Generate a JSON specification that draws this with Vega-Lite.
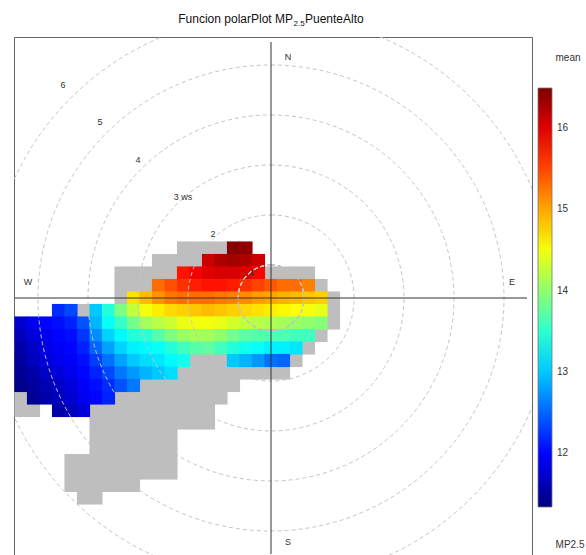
{
  "$schema": "https://vega.github.io/schema/vega-lite/v6.json",
  "width": 518,
  "height": 518,
  "autosize": {"type": "none"},
  "padding": {"left": 14, "top": 37, "right": 54, "bottom": 0},
  "background": "white",
  "config": {"view": {"stroke": "#666666", "strokeWidth": 1}, "font": "Liberation Sans"},
  "datasets": {
    "cells": [
      {"u": -0.75, "v": 1, "m": 16.45}, {"u": -0.5, "v": 1, "m": 16.4},
      {"u": -1.25, "v": 0.75, "m": 16.1}, {"u": -1, "v": 0.75, "m": 16.25}, {"u": -0.75, "v": 0.75, "m": 16.3}, {"u": -0.5, "v": 0.75, "m": 16.25}, {"u": -0.25, "v": 0.75, "m": 16.1},
      {"u": -1.75, "v": 0.5, "m": 15.75}, {"u": -1.5, "v": 0.5, "m": 15.9}, {"u": -1.25, "v": 0.5, "m": 16.0}, {"u": -1, "v": 0.5, "m": 16.05}, {"u": -0.75, "v": 0.5, "m": 16.05}, {"u": -0.5, "v": 0.5, "m": 16.0}, {"u": -0.25, "v": 0.5, "m": 15.85},
      {"u": -2.25, "v": 0.25, "m": 15.3}, {"u": -2, "v": 0.25, "m": 15.45}, {"u": -1.75, "v": 0.25, "m": 15.6}, {"u": -1.5, "v": 0.25, "m": 15.7}, {"u": -1.25, "v": 0.25, "m": 15.75}, {"u": -1, "v": 0.25, "m": 15.75}, {"u": -0.75, "v": 0.25, "m": 15.7}, {"u": -0.5, "v": 0.25, "m": 15.6}, {"u": -0.25, "v": 0.25, "m": 15.5}, {"u": 0, "v": 0.25, "m": 15.4}, {"u": 0.25, "v": 0.25, "m": 15.3}, {"u": 0.5, "v": 0.25, "m": 15.3}, {"u": 0.75, "v": 0.25, "m": 15.2},
      {"u": -2.75, "v": 0, "m": 14.7}, {"u": -2.5, "v": 0, "m": 14.9}, {"u": -2.25, "v": 0, "m": 15.1}, {"u": -2, "v": 0, "m": 15.25}, {"u": -1.75, "v": 0, "m": 15.3}, {"u": -1.5, "v": 0, "m": 15.3}, {"u": -1.25, "v": 0, "m": 15.3}, {"u": -1, "v": 0, "m": 15.25}, {"u": -0.75, "v": 0, "m": 15.2}, {"u": -0.5, "v": 0, "m": 15.15}, {"u": -0.25, "v": 0, "m": 15.05}, {"u": 0, "v": 0, "m": 15.0}, {"u": 0.25, "v": 0, "m": 14.95}, {"u": 0.5, "v": 0, "m": 14.9}, {"u": 0.75, "v": 0, "m": 14.85}, {"u": 1, "v": 0, "m": 14.8},
      {"u": -4.25, "v": -0.25, "m": 12.2}, {"u": -4, "v": -0.25, "m": 12.35}, {"u": -3.5, "v": -0.25, "m": 13.0}, {"u": -3.25, "v": -0.25, "m": 13.45}, {"u": -3, "v": -0.25, "m": 13.9}, {"u": -2.75, "v": -0.25, "m": 14.25}, {"u": -2.5, "v": -0.25, "m": 14.5}, {"u": -2.25, "v": -0.25, "m": 14.65}, {"u": -2, "v": -0.25, "m": 14.75}, {"u": -1.75, "v": -0.25, "m": 14.8}, {"u": -1.5, "v": -0.25, "m": 14.85}, {"u": -1.25, "v": -0.25, "m": 14.9}, {"u": -1, "v": -0.25, "m": 14.85}, {"u": -0.75, "v": -0.25, "m": 14.8}, {"u": -0.5, "v": -0.25, "m": 14.75}, {"u": -0.25, "v": -0.25, "m": 14.7}, {"u": 0, "v": -0.25, "m": 14.65}, {"u": 0.25, "v": -0.25, "m": 14.6}, {"u": 0.5, "v": -0.25, "m": 14.55}, {"u": 0.75, "v": -0.25, "m": 14.5}, {"u": 1, "v": -0.25, "m": 14.45},
      {"u": -5, "v": -0.5, "m": 11.75}, {"u": -4.75, "v": -0.5, "m": 11.9}, {"u": -4.5, "v": -0.5, "m": 12.0}, {"u": -4.25, "v": -0.5, "m": 12.05}, {"u": -4, "v": -0.5, "m": 12.15}, {"u": -3.75, "v": -0.5, "m": 12.4}, {"u": -3.5, "v": -0.5, "m": 12.9}, {"u": -3.25, "v": -0.5, "m": 13.3}, {"u": -3, "v": -0.5, "m": 13.55}, {"u": -2.75, "v": -0.5, "m": 13.85}, {"u": -2.5, "v": -0.5, "m": 14.1}, {"u": -2.25, "v": -0.5, "m": 14.2}, {"u": -2, "v": -0.5, "m": 14.3}, {"u": -1.75, "v": -0.5, "m": 14.45}, {"u": -1.5, "v": -0.5, "m": 14.5}, {"u": -1.25, "v": -0.5, "m": 14.5}, {"u": -1, "v": -0.5, "m": 14.45}, {"u": -0.75, "v": -0.5, "m": 14.35}, {"u": -0.5, "v": -0.5, "m": 14.25}, {"u": -0.25, "v": -0.5, "m": 14.2}, {"u": 0, "v": -0.5, "m": 14.15}, {"u": 0.25, "v": -0.5, "m": 14.1}, {"u": 0.5, "v": -0.5, "m": 14.05}, {"u": 0.75, "v": -0.5, "m": 14.0}, {"u": 1, "v": -0.5, "m": 13.95},
      {"u": -5, "v": -0.75, "m": 11.65}, {"u": -4.75, "v": -0.75, "m": 11.8}, {"u": -4.5, "v": -0.75, "m": 11.9}, {"u": -4.25, "v": -0.75, "m": 12.0}, {"u": -4, "v": -0.75, "m": 12.05}, {"u": -3.75, "v": -0.75, "m": 12.25}, {"u": -3.5, "v": -0.75, "m": 12.7}, {"u": -3.25, "v": -0.75, "m": 13.05}, {"u": -3, "v": -0.75, "m": 13.25}, {"u": -2.75, "v": -0.75, "m": 13.45}, {"u": -2.5, "v": -0.75, "m": 13.5}, {"u": -2.25, "v": -0.75, "m": 13.7}, {"u": -2, "v": -0.75, "m": 13.9}, {"u": -1.75, "v": -0.75, "m": 14.05}, {"u": -1.5, "v": -0.75, "m": 14.1}, {"u": -1.25, "v": -0.75, "m": 14.1}, {"u": -1, "v": -0.75, "m": 14.0}, {"u": -0.75, "v": -0.75, "m": 13.85}, {"u": -0.5, "v": -0.75, "m": 13.75}, {"u": -0.25, "v": -0.75, "m": 13.7}, {"u": 0, "v": -0.75, "m": 13.65}, {"u": 0.25, "v": -0.75, "m": 13.65}, {"u": 0.5, "v": -0.75, "m": 13.6}, {"u": 0.75, "v": -0.75, "m": 13.6},
      {"u": -5, "v": -1, "m": 11.55}, {"u": -4.75, "v": -1, "m": 11.7}, {"u": -4.5, "v": -1, "m": 11.85}, {"u": -4.25, "v": -1, "m": 11.95}, {"u": -4, "v": -1, "m": 12.0}, {"u": -3.75, "v": -1, "m": 12.15}, {"u": -3.5, "v": -1, "m": 12.5}, {"u": -3.25, "v": -1, "m": 12.8}, {"u": -3, "v": -1, "m": 13.05}, {"u": -2.75, "v": -1, "m": 13.2}, {"u": -2.5, "v": -1, "m": 13.25}, {"u": -2.25, "v": -1, "m": 13.3}, {"u": -2, "v": -1, "m": 13.45}, {"u": -1.75, "v": -1, "m": 13.6}, {"u": -1.5, "v": -1, "m": 13.7}, {"u": -1.25, "v": -1, "m": 13.75}, {"u": -1, "v": -1, "m": 13.6}, {"u": -0.75, "v": -1, "m": 13.45}, {"u": -0.5, "v": -1, "m": 13.35}, {"u": -0.25, "v": -1, "m": 13.3}, {"u": 0, "v": -1, "m": 13.2}, {"u": 0.25, "v": -1, "m": 13.2}, {"u": 0.5, "v": -1, "m": 13.15},
      {"u": -5, "v": -1.25, "m": 11.5}, {"u": -4.75, "v": -1.25, "m": 11.65}, {"u": -4.5, "v": -1.25, "m": 11.8}, {"u": -4.25, "v": -1.25, "m": 11.9}, {"u": -4, "v": -1.25, "m": 11.95}, {"u": -3.75, "v": -1.25, "m": 12.05}, {"u": -3.5, "v": -1.25, "m": 12.3}, {"u": -3.25, "v": -1.25, "m": 12.55}, {"u": -3, "v": -1.25, "m": 12.8}, {"u": -2.75, "v": -1.25, "m": 13.0}, {"u": -2.5, "v": -1.25, "m": 13.1}, {"u": -2.25, "v": -1.25, "m": 13.15}, {"u": -2, "v": -1.25, "m": 13.25}, {"u": -1.75, "v": -1.25, "m": 13.35}, {"u": -0.75, "v": -1.25, "m": 13.0}, {"u": -0.5, "v": -1.25, "m": 12.9}, {"u": -0.25, "v": -1.25, "m": 12.75}, {"u": 0, "v": -1.25, "m": 12.55}, {"u": 0.25, "v": -1.25, "m": 12.5},
      {"u": -5, "v": -1.5, "m": 11.45}, {"u": -4.75, "v": -1.5, "m": 11.55}, {"u": -4.5, "v": -1.5, "m": 11.7}, {"u": -4.25, "v": -1.5, "m": 11.8}, {"u": -4, "v": -1.5, "m": 11.9}, {"u": -3.75, "v": -1.5, "m": 12.0}, {"u": -3.5, "v": -1.5, "m": 12.15}, {"u": -3.25, "v": -1.5, "m": 12.35}, {"u": -3, "v": -1.5, "m": 12.6}, {"u": -2.75, "v": -1.5, "m": 12.75}, {"u": -2.5, "v": -1.5, "m": 12.9}, {"u": -2.25, "v": -1.5, "m": 13.0}, {"u": -2, "v": -1.5, "m": 13.1},
      {"u": -5, "v": -1.75, "m": 11.4}, {"u": -4.75, "v": -1.75, "m": 11.5}, {"u": -4.5, "v": -1.75, "m": 11.6}, {"u": -4.25, "v": -1.75, "m": 11.7}, {"u": -4, "v": -1.75, "m": 11.8}, {"u": -3.75, "v": -1.75, "m": 11.95}, {"u": -3.5, "v": -1.75, "m": 12.05}, {"u": -3.25, "v": -1.75, "m": 12.2}, {"u": -3, "v": -1.75, "m": 12.4}, {"u": -2.75, "v": -1.75, "m": 12.6},
      {"u": -4.75, "v": -2, "m": 11.45}, {"u": -4.5, "v": -2, "m": 11.55}, {"u": -4.25, "v": -2, "m": 11.65}, {"u": -4, "v": -2, "m": 11.75}, {"u": -3.75, "v": -2, "m": 11.9}, {"u": -3.5, "v": -2, "m": 12.0}, {"u": -3.25, "v": -2, "m": 12.15},
      {"u": -4.25, "v": -2.25, "m": 11.55}, {"u": -4, "v": -2.25, "m": 11.65}, {"u": -3.75, "v": -2.25, "m": 11.8}
    ],
    "missing": [
      {"u": -1.75, "v": 1}, {"u": -1.5, "v": 1}, {"u": -1.25, "v": 1}, {"u": -1, "v": 1},
      {"u": -2.25, "v": 0.75}, {"u": -2, "v": 0.75}, {"u": -1.75, "v": 0.75}, {"u": -1.5, "v": 0.75},
      {"u": -3, "v": 0.5}, {"u": -2.75, "v": 0.5}, {"u": -2.5, "v": 0.5}, {"u": -2.25, "v": 0.5}, {"u": -2, "v": 0.5}, {"u": 0, "v": 0.5}, {"u": 0.25, "v": 0.5}, {"u": 0.5, "v": 0.5}, {"u": 0.75, "v": 0.5},
      {"u": -3, "v": 0.25}, {"u": -2.75, "v": 0.25}, {"u": -2.5, "v": 0.25}, {"u": 1, "v": 0.25},
      {"u": -3, "v": 0}, {"u": 1.25, "v": 0},
      {"u": -3.75, "v": -0.25}, {"u": 1.25, "v": -0.25},
      {"u": 1.25, "v": -0.5},
      {"u": 1, "v": -0.75},
      {"u": 0.75, "v": -1},
      {"u": -1.5, "v": -1.25}, {"u": -1.25, "v": -1.25}, {"u": -1, "v": -1.25}, {"u": 0.5, "v": -1.25},
      {"u": -1.75, "v": -1.5}, {"u": -1.5, "v": -1.5}, {"u": -1.25, "v": -1.5}, {"u": -1, "v": -1.5}, {"u": -0.75, "v": -1.5}, {"u": -0.5, "v": -1.5}, {"u": -0.25, "v": -1.5}, {"u": 0, "v": -1.5}, {"u": 0.25, "v": -1.5},
      {"u": -2.5, "v": -1.75}, {"u": -2.25, "v": -1.75}, {"u": -2, "v": -1.75}, {"u": -1.75, "v": -1.75}, {"u": -1.5, "v": -1.75}, {"u": -1.25, "v": -1.75}, {"u": -1, "v": -1.75}, {"u": -0.75, "v": -1.75},
      {"u": -5, "v": -2}, {"u": -3, "v": -2}, {"u": -2.75, "v": -2}, {"u": -2.5, "v": -2}, {"u": -2.25, "v": -2}, {"u": -2, "v": -2}, {"u": -1.75, "v": -2}, {"u": -1.5, "v": -2}, {"u": -1.25, "v": -2}, {"u": -1, "v": -2},
      {"u": -5, "v": -2.25}, {"u": -4.75, "v": -2.25}, {"u": -3.5, "v": -2.25}, {"u": -3.25, "v": -2.25}, {"u": -3, "v": -2.25}, {"u": -2.75, "v": -2.25}, {"u": -2.5, "v": -2.25}, {"u": -2.25, "v": -2.25}, {"u": -2, "v": -2.25}, {"u": -1.75, "v": -2.25}, {"u": -1.5, "v": -2.25}, {"u": -1.25, "v": -2.25},
      {"u": -3.5, "v": -2.5}, {"u": -3.25, "v": -2.5}, {"u": -3, "v": -2.5}, {"u": -2.75, "v": -2.5}, {"u": -2.5, "v": -2.5}, {"u": -2.25, "v": -2.5}, {"u": -2, "v": -2.5}, {"u": -1.75, "v": -2.5}, {"u": -1.5, "v": -2.5}, {"u": -1.25, "v": -2.5},
      {"u": -3.5, "v": -2.75}, {"u": -3.25, "v": -2.75}, {"u": -3, "v": -2.75}, {"u": -2.75, "v": -2.75}, {"u": -2.5, "v": -2.75}, {"u": -2.25, "v": -2.75}, {"u": -2, "v": -2.75},
      {"u": -3.5, "v": -3}, {"u": -3.25, "v": -3}, {"u": -3, "v": -3}, {"u": -2.75, "v": -3}, {"u": -2.5, "v": -3}, {"u": -2.25, "v": -3}, {"u": -2, "v": -3},
      {"u": -4, "v": -3.25}, {"u": -3.75, "v": -3.25}, {"u": -3.5, "v": -3.25}, {"u": -3.25, "v": -3.25}, {"u": -3, "v": -3.25}, {"u": -2.75, "v": -3.25}, {"u": -2.5, "v": -3.25}, {"u": -2.25, "v": -3.25}, {"u": -2, "v": -3.25},
      {"u": -4, "v": -3.5}, {"u": -3.75, "v": -3.5}, {"u": -3.5, "v": -3.5}, {"u": -3.25, "v": -3.5}, {"u": -3, "v": -3.5}, {"u": -2.75, "v": -3.5}, {"u": -2.5, "v": -3.5}, {"u": -2.25, "v": -3.5}, {"u": -2, "v": -3.5},
      {"u": -4, "v": -3.75}, {"u": -3.75, "v": -3.75}, {"u": -3.5, "v": -3.75}, {"u": -3.25, "v": -3.75}, {"u": -3, "v": -3.75}, {"u": -2.75, "v": -3.75},
      {"u": -3.75, "v": -4}, {"u": -3.5, "v": -4}
    ],
    "rings": [{"ws": 1}, {"ws": 2}, {"ws": 3}, {"ws": 4}, {"ws": 5}, {"ws": 6}],
    "axes": [
      {"x1": -5.12, "x2": 5.12, "y1": 0, "y2": 0},
      {"x1": 0, "x2": 0, "y1": -5.12, "y2": 5.12}
    ],
    "ringlabels": [
      {"lx": -0.38, "ly": 0.52, "t": "1"},
      {"lx": -1.16, "ly": 1.28, "t": "2"},
      {"lx": -1.76, "ly": 2.02, "t": "3 ws"},
      {"lx": -2.66, "ly": 2.76, "t": "4"},
      {"lx": -3.42, "ly": 3.52, "t": "5"},
      {"lx": -4.16, "ly": 4.26, "t": "6"}
    ],
    "compass": [
      {"lx": 0.34, "ly": 4.82, "t": "N"},
      {"lx": 0.34, "ly": -4.88, "t": "S"},
      {"lx": -4.86, "ly": 0.32, "t": "W"},
      {"lx": 4.82, "ly": 0.32, "t": "E"}
    ],
    "annot": [
      {"lx": 5.94, "ly": 4.8, "t": "mean"},
      {"lx": 5.98, "ly": -4.94, "t": "MP2.5"}
    ]
  },
  "layer": [
    {
      "data": {"name": "missing"},
      "mark": {"type": "square", "size": 172, "opacity": 1, "color": "#BEBEBE", "strokeWidth": 0},
      "encoding": {
        "x": {"field": "u", "type": "quantitative", "scale": {"domain": [-5.14, 5.22], "nice": false, "zero": false}, "axis": null},
        "y": {"field": "v", "type": "quantitative", "scale": {"domain": [-5.14, 5.22], "nice": false, "zero": false}, "axis": null}
      }
    },
    {
      "data": {"name": "cells"},
      "mark": {"type": "square", "size": 172, "opacity": 1, "strokeWidth": 0},
      "encoding": {
        "x": {"field": "u", "type": "quantitative"},
        "y": {"field": "v", "type": "quantitative"},
        "color": {
          "field": "m", "type": "quantitative",
          "scale": {
            "domain": [11.34, 11.984, 12.628, 13.271, 13.915, 14.559, 15.203, 15.846, 16.49],
            "range": ["#00007F", "#0000FF", "#007FFF", "#00FFFF", "#7FFF7F", "#FFFF00", "#FF7F00", "#FF0000", "#7F0000"],
            "interpolate": "rgb"
          },
          "legend": {
            "orient": "none", "legendX": 524, "legendY": 51, "direction": "vertical",
            "gradientLength": 419, "gradientThickness": 14, "title": null,
            "values": [12, 13, 14, 15, 16], "format": "d",
            "labelFontSize": 10, "labelColor": "#333333", "labelOffset": 5, "labelOverlap": false,
            "gradientStrokeColor": "#777777", "gradientStrokeWidth": 0.8
          }
        }
      }
    },
    {
      "data": {"name": "rings"},
      "mark": {"type": "arc", "filled": false, "stroke": "#C4C4C4", "strokeWidth": 1, "strokeDash": [4, 3], "theta": 0, "theta2": 6.2832, "clip": true},
      "encoding": {
        "x": {"datum": 0, "type": "quantitative"},
        "y": {"datum": 0, "type": "quantitative"},
        "radius": {"field": "ws", "type": "quantitative", "stack": null, "scale": {"type": "linear", "zero": false, "domain": [1, 6], "range": [33, 283]}}
      }
    },
    {
      "data": {"name": "axes"},
      "mark": {"type": "rule", "color": "#333333", "strokeWidth": 1},
      "encoding": {
        "x": {"field": "x1", "type": "quantitative"},
        "x2": {"field": "x2"},
        "y": {"field": "y1", "type": "quantitative"},
        "y2": {"field": "y2"}
      }
    },
    {
      "data": {"name": "ringlabels"},
      "mark": {"type": "text", "fontSize": 9, "color": "#333333", "align": "center", "baseline": "middle"},
      "encoding": {
        "x": {"field": "lx", "type": "quantitative"},
        "y": {"field": "ly", "type": "quantitative"},
        "text": {"field": "t"}
      }
    },
    {
      "data": {"name": "compass"},
      "mark": {"type": "text", "fontSize": 9, "color": "#333333", "align": "center", "baseline": "middle"},
      "encoding": {
        "x": {"field": "lx", "type": "quantitative"},
        "y": {"field": "ly", "type": "quantitative"},
        "text": {"field": "t"}
      }
    },
    {
      "data": {"name": "annot"},
      "mark": {"type": "text", "fontSize": 10, "color": "#333333", "align": "center", "baseline": "middle"},
      "encoding": {
        "x": {"field": "lx", "type": "quantitative"},
        "y": {"field": "ly", "type": "quantitative"},
        "text": {"field": "t"}
      }
    },
    {
      "data": {"values": [{"t": "Funcion polarPlot MP", "lx": 0.44, "ly": 5.5}]},
      "mark": {"type": "text", "fontSize": 12, "color": "#111111", "align": "right", "baseline": "alphabetic"},
      "encoding": {
        "x": {"field": "lx", "type": "quantitative"},
        "y": {"field": "ly", "type": "quantitative"},
        "text": {"field": "t"}
      }
    },
    {
      "data": {"values": [{"t": "2.5", "lx": 0.44, "ly": 5.5}]},
      "mark": {"type": "text", "fontSize": 8, "color": "#111111", "align": "left", "baseline": "alphabetic", "dx": 0.5, "dy": 3},
      "encoding": {
        "x": {"field": "lx", "type": "quantitative"},
        "y": {"field": "ly", "type": "quantitative"},
        "text": {"field": "t"}
      }
    },
    {
      "data": {"values": [{"t": "PuenteAlto", "lx": 0.44, "ly": 5.5}]},
      "mark": {"type": "text", "fontSize": 12, "color": "#111111", "align": "left", "baseline": "alphabetic", "dx": 12},
      "encoding": {
        "x": {"field": "lx", "type": "quantitative"},
        "y": {"field": "ly", "type": "quantitative"},
        "text": {"field": "t"}
      }
    }
  ]
}
